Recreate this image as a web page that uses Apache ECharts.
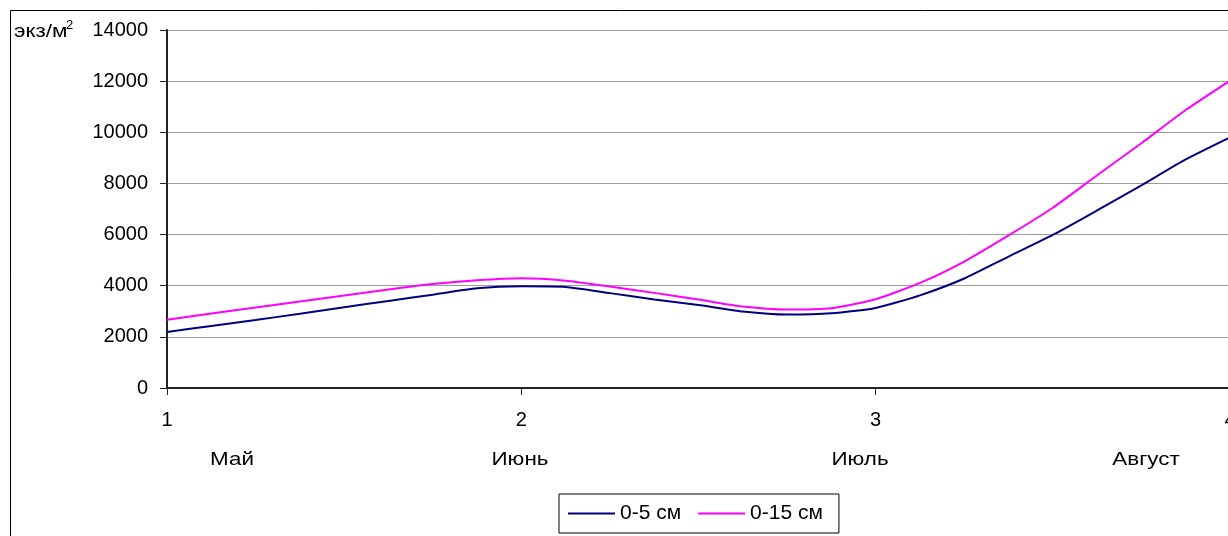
<!DOCTYPE html>
<html>
<head>
<meta charset="utf-8">
<script src="https://cdn.jsdelivr.net/npm/echarts@6/dist/echarts.min.js"></script>
<style>
html,body{margin:0;padding:0;background:#fff;}
#chart{width:1228px;height:536px;}
</style>
</head>
<body>
<div id="chart"></div>
<script>
// Data (values at 1/8 steps of the x axis)
const xValues = [1, 1.125, 1.25, 1.375, 1.5, 1.625, 1.75, 1.875,
                 2, 2.125, 2.25, 2.375, 2.5, 2.625, 2.75, 2.875,
                 3, 3.125, 3.25, 3.375, 3.5, 3.625, 3.75, 3.875, 4];
const series05 = [2190, 2425, 2660, 2905, 3160, 3405, 3650, 3898,
                  3975, 3950, 3710, 3460, 3245, 2990, 2870, 2920,
                  3130, 3623, 4283, 5140, 5985, 6943, 7925, 8937, 9800];
const series015 = [2670, 2910, 3150, 3385, 3620, 3855, 4065, 4210,
                   4290, 4195, 3970, 3720, 3460, 3185, 3065, 3120,
                   3470, 4108, 4944, 5965, 7050, 8320, 9572, 10870, 12020];
const months = ['Май', 'Июнь', 'Июль', 'Август'];
const monthPos = [232, 520, 860, 1146]; // label centres (px) under axis
const seriesNames = ['0-5 см', '0-15 см'];
const yTicks = { min: 0, max: 14000, interval: 2000 };
const unitLabel = 'экз/м';
const unitSup = '2';

const FONT = 'Liberation Sans, Arial, sans-serif';
const chart = echarts.init(document.getElementById('chart'), null, { renderer: 'canvas' });

const toPairs = (vals) => xValues.map((x, i) => [x, vals[i]]);

chart.setOption({
  backgroundColor: '#fff',
  animation: false,
  grid: { left: 167, top: 30, width: 1063, height: 358, containLabel: false, outerBoundsMode: 'none' },
  xAxis: {
    type: 'value', min: 1, max: 4, interval: 1,
    axisLine: { show: true, lineStyle: { color: '#222', width: 2 } },
    axisTick: { show: true, length: 7, lineStyle: { color: '#222', width: 1 } },
    axisLabel: { color: '#000', fontSize: 20, fontFamily: FONT, margin: 22, showMaxLabel: true, hideOverlap: false },
    splitLine: { show: false }
  },
  yAxis: {
    type: 'value', min: yTicks.min, max: yTicks.max, interval: yTicks.interval,
    axisLine: { show: true, lineStyle: { color: '#222', width: 2 } },
    axisTick: { show: true, length: 7, lineStyle: { color: '#222', width: 1 } },
    axisLabel: { color: '#000', fontSize: 20, fontFamily: FONT, margin: 19, formatter: (v) => String(v) },
    splitLine: { show: true, lineStyle: { color: '#9a9a9a', width: 1 } }
  },
  legend: {
    left: 559, top: 494,
    orient: 'horizontal',
    itemWidth: 47, itemHeight: 14, itemGap: 16,
    padding: [9, 16, 9, 8],
    borderColor: '#000', borderWidth: 1,
    itemStyle: { opacity: 0 },
    lineStyle: { width: 2 },
    textStyle: { color: '#000', fontSize: 21, fontFamily: FONT },
    data: seriesNames
  },
  series: [
    {
      name: seriesNames[0], type: 'line', data: toPairs(series05),
      smooth: 0.2, symbol: 'none',
      lineStyle: { color: '#000080', width: 2 }, itemStyle: { color: '#000080' }
    },
    {
      name: seriesNames[1], type: 'line', data: toPairs(series015),
      smooth: 0.2, symbol: 'none',
      lineStyle: { color: '#FF00FF', width: 2 }, itemStyle: { color: '#FF00FF' }
    }
  ],
  graphic: [
    { type: 'rect', silent: true, z: 0, shape: { x: 10.5, y: 10.5, width: 1400, height: 700 },
      style: { fill: 'none', stroke: '#000', lineWidth: 1 } },
    { type: 'text', x: 14, y: 32, scaleX: 1.18, style: {
        text: unitLabel, fill: '#000', font: '19px ' + FONT, textAlign: 'left', textVerticalAlign: 'middle' } },
    { type: 'text', x: 66, y: 19, style: {
        text: unitSup, fill: '#000', font: '13px ' + FONT, textAlign: 'left', textVerticalAlign: 'top' } }
  ].concat(months.map((m, i) => ({
    type: 'text', x: monthPos[i], y: 460, scaleX: 1.18,
    style: { text: m, fill: '#000', font: '19px ' + FONT, textAlign: 'center', textVerticalAlign: 'middle' }
  })))
});
</script>
</body>
</html>
